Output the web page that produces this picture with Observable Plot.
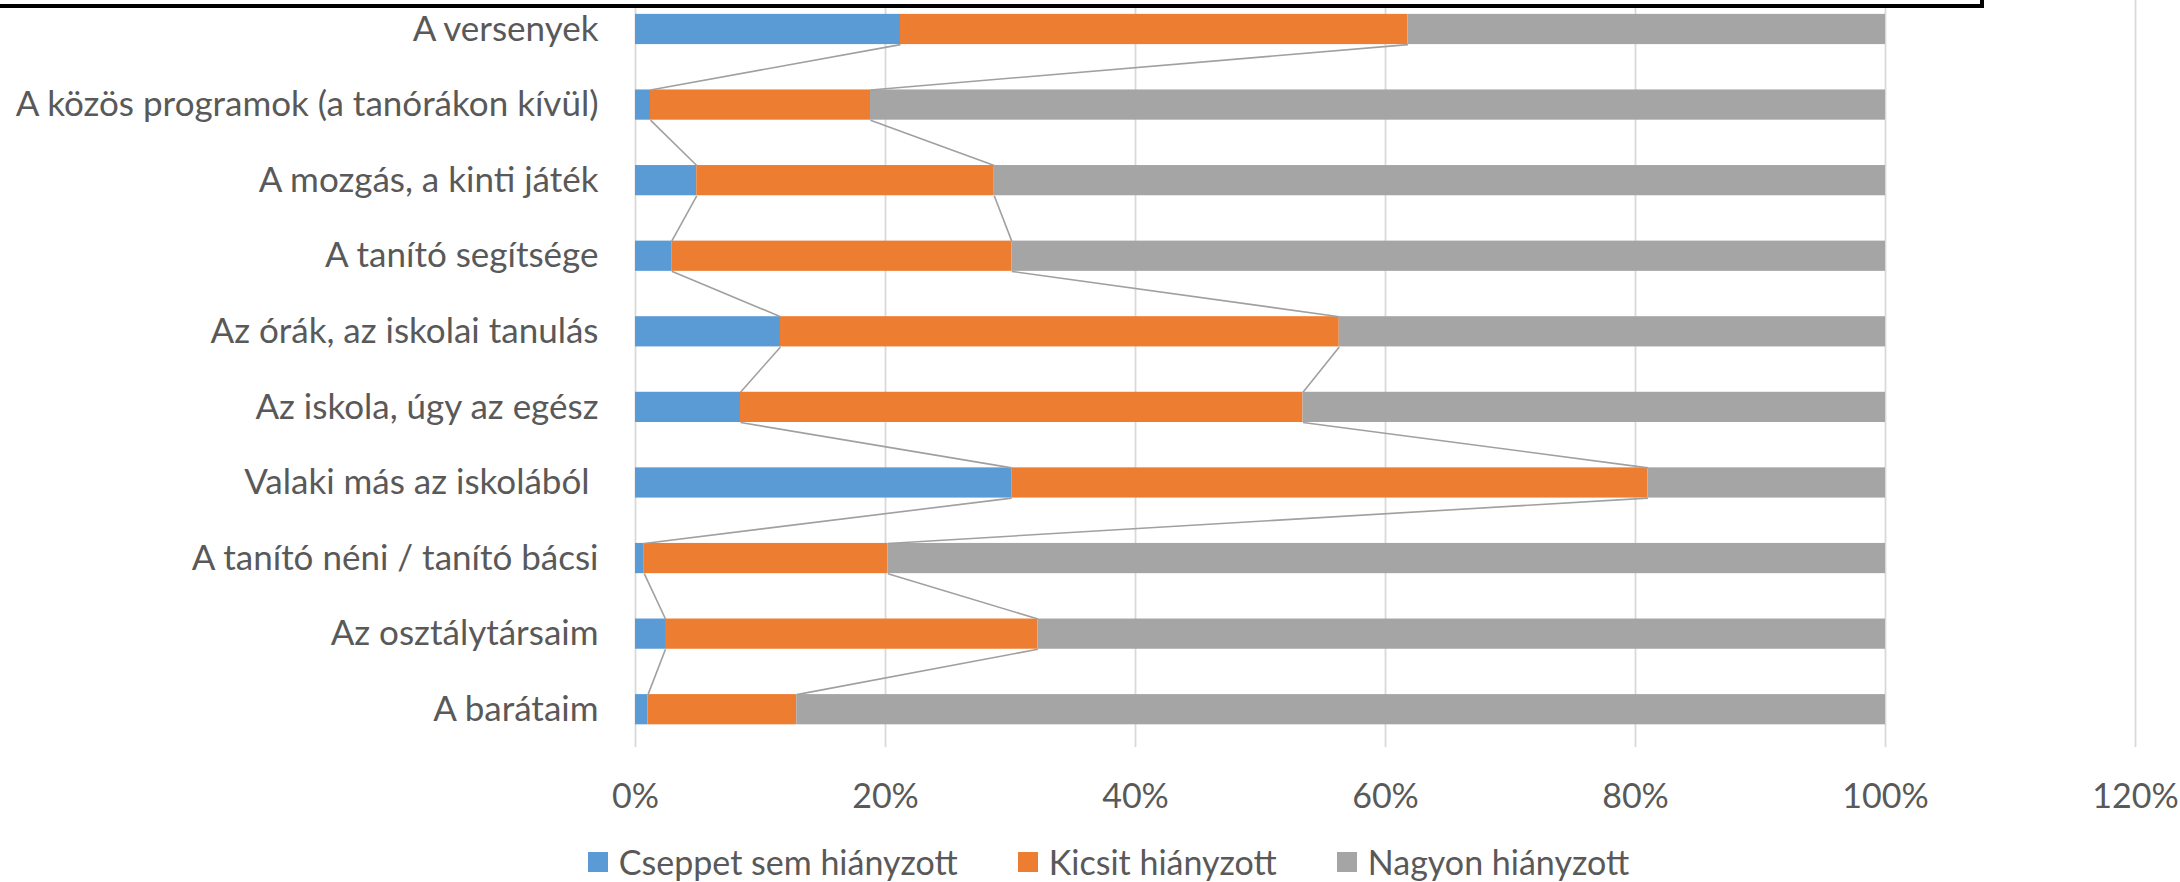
<!DOCTYPE html>
<html>
<head>
<meta charset="utf-8">
<script src="https://cdn.jsdelivr.net/npm/d3@7"></script>
<script src="https://cdn.jsdelivr.net/npm/@observablehq/plot@0.6"></script>
<style>
  html, body { margin: 0; padding: 0; background: #fff; overflow: hidden; }
  #wrap { position: relative; width: 2180px; height: 882px; overflow: hidden; font-family: Lato, "Open Sans", sans-serif; color: #595959; }
  #chart svg text { white-space: pre; }
  #chart g[aria-label="y-axis tick label"] { font-size: 35px; }
  #box { position: absolute; left: -10px; top: -20px; width: 1994px; height: 28px; box-sizing: border-box; border: 4px solid #000; background: #fff; }
  #legend { position: absolute; left: 0; top: 838px; width: 2217px; height: 48px; display: flex; justify-content: center; align-items: center; font-size: 34px; line-height: 48px; }
  .item { display: flex; align-items: center; margin: 0 30px; white-space: nowrap; }
  .sw { width: 20px; height: 20px; margin-right: 11px; }
</style>
</head>
<body>
<div id="wrap">
  <div id="chart"></div>
  <div id="legend"></div>
  <div id="box"></div>
</div>
<script>
// ---- data (percent) ----
const categories = [
  "A versenyek",
  "A közös programok (a tanórákon kívül)",
  "A mozgás, a kinti játék",
  "A tanító segítsége",
  "Az órák, az iskolai tanulás",
  "Az iskola, úgy az egész",
  "Valaki más az iskolából ",
  "A tanító néni / tanító bácsi",
  "Az osztálytársaim",
  "A barátaim"
];
const seriesNames = ["Cseppet sem hiányzott", "Kicsit hiányzott", "Nagyon hiányzott"];
const cseppetSem = [21.2, 1.2, 4.9, 2.9, 11.6, 8.4, 30.1, 0.7, 2.4, 1.0];
const kicsit     = [40.6, 17.6, 23.8, 27.2, 44.7, 45.0, 50.9, 19.5, 29.8, 11.9];
const nagyon     = [38.2, 81.2, 71.3, 69.9, 43.7, 46.6, 19.0, 79.8, 67.8, 87.1];
const seriesColors = ["#5b9bd5", "#ed7d31", "#a5a5a5"];
const xTicks = [0, 20, 40, 60, 80, 100, 120];

// ---- derived tables ----
const seriesValues = [cseppetSem, kicsit, nagyon];
const segments = [];
const ends = seriesValues.map(() => []);
categories.forEach((cat, i) => {
  let start = 0;
  seriesValues.forEach((arr, k) => {
    const end = start + arr[i];
    segments.push({cat, i, series: seriesNames[k], x1: start, x2: end});
    ends[k].push(end);
    start = end;
  });
});
const half = 0.2; // half bar thickness in category-index units
const seriesLines = [];
for (let k = 0; k < 2; k++) {
  for (let i = 0; i < categories.length - 1; i++) {
    seriesLines.push({x1: ends[k][i], y1: i + half, x2: ends[k][i + 1], y2: i + 1 - half});
  }
}

const chart = Plot.plot({
  width: 2180,
  height: 840,
  marginLeft: 635,
  marginRight: 45,
  marginTop: 0,
  marginBottom: 93,
  style: {fontFamily: "Lato, 'Open Sans', sans-serif", fontSize: "34px", color: "#595959", background: "#fff"},
  x: {domain: [0, 120], ticks: xTicks, tickFormat: d => d + "%", tickSize: 0, tickPadding: 36, label: null},
  y: {domain: [-0.5, categories.length - 0.5], range: [-8.8, 747], ticks: d3.range(categories.length),
      tickFormat: i => categories[i], tickSize: 0, tickPadding: 37, label: null},
  color: {domain: seriesNames, range: seriesColors},
  marks: [
    Plot.ruleX(xTicks, {stroke: "#d9d9d9", strokeWidth: 1.8}),
    Plot.rect(segments, {x1: "x1", x2: "x2", y1: d => d.i - half, y2: d => d.i + half, fill: "series"}),
    Plot.link(seriesLines, {x1: "x1", y1: "y1", x2: "x2", y2: "y2", stroke: "#a0a0a0", strokeWidth: 1.6})
  ]
});
document.getElementById("chart").appendChild(chart);

// ---- legend ----
const legend = document.getElementById("legend");
seriesNames.forEach((name, k) => {
  const item = document.createElement("div");
  item.className = "item";
  const sw = document.createElement("div");
  sw.className = "sw";
  sw.style.background = seriesColors[k];
  const label = document.createElement("span");
  label.textContent = name;
  item.appendChild(sw);
  item.appendChild(label);
  legend.appendChild(item);
});
</script>
</body>
</html>
